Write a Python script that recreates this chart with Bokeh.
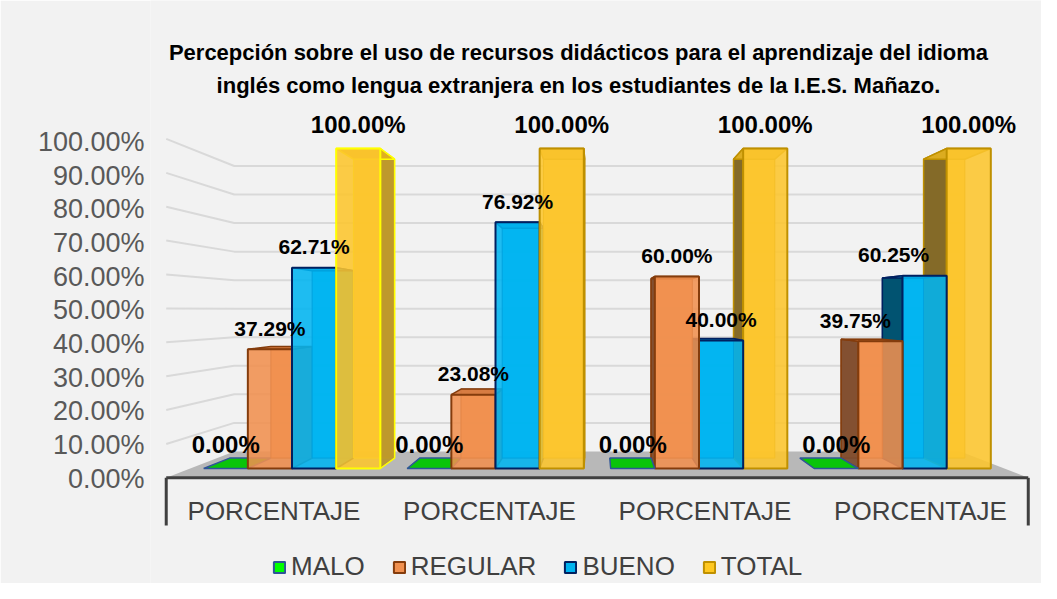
from bokeh.plotting import figure
from bokeh.models import (Range1d, LinearAxis, FixedTicker, ColumnDataSource,
                          Legend, LegendItem)
from bokeh.core.properties import value
from bokeh.embed import file_html
from bokeh.resources import INLINE

# ---------------- data ----------------
title_lines = ["Percepción sobre el uso de recursos didácticos para el aprendizaje del idioma",
               "inglés como lengua extranjera en los estudiantes de la I.E.S. Mañazo."]
categories = ["PORCENTAJE", "PORCENTAJE", "PORCENTAJE", "PORCENTAJE"]
series = ["MALO", "REGULAR", "BUENO", "TOTAL"]
malo = [0.00, 0.00, 0.00, 0.00]
regular = [37.29, 23.08, 60.00, 39.75]
bueno = [62.71, 76.92, 40.00, 60.25]
total = [100.00, 100.00, 100.00, 100.00]
y_ticks = [0, 10, 20, 30, 40, 50, 60, 70, 80, 90, 100]
y_tick_labels = ["0.00%", "10.00%", "20.00%", "30.00%", "40.00%", "50.00%",
                 "60.00%", "70.00%", "80.00%", "90.00%", "100.00%"]

# ---------------- layout / style ----------------
W, H = 1041, 583
FRAME_LEFT = 150
GX0, GXS = 291.5, 203.5      # px of first category centre, px per category
BY0, BYS = 468.0, 3.2        # px of 0 % on bar front plane, px per percent


def xd(fx):
    return (fx - GX0) / GXS


def yd(fy):
    return (BY0 - fy) / BYS


VX, VY = 1.5, yd(310)        # vanishing point (data units)
K_BOX, K_BACK, K_WALL = 1.059, 0.934, 0.892
W_BAR = 0.217
XL, XR = -0.5, 3.5

STYLE = [
    dict(front="#00C000", rside="#009000", lside="#006000", top="#00C400", line="#2F5597"),
    dict(front="#F0904F", rside="#C0703A", lside="#7A4A2E", top="#D57A40", line="#843C0C"),
    dict(front="#00B4F0", rside="#0088B8", lside="#004A66", top="#0090C8", line="#002060"),
    dict(front="#FCC52C", rside="#B8952A", lside="#7A6226", top="#E0B020", line="#BF9000"),
]
LABEL_SIZE = [24, 21, 21, 24]
LEGEND_FILL = ["#00FF00", "#F0904F", "#00B4F0", "#FFC820"]
LEGEND_LINE = ["#2F5597", "#843C0C", "#002060", "#BF9000"]
label_dx = {(3, 1): -25, (3, 2): -31}
outline_override = {(0, 3): "#FFFF00"}

p = figure(width=W, height=H, x_range=Range1d(xd(FRAME_LEFT), xd(W)),
           y_range=Range1d(yd(H), yd(0)), x_axis_type=None, y_axis_type=None,
           toolbar_location=None, output_backend="svg",
           min_border_left=FRAME_LEFT, min_border_right=0, min_border_top=0,
           min_border_bottom=0, background_fill_color="#F2F2F2",
           border_fill_color="#F2F2F2", outline_line_color=None)

# y axis (wall front scale)
AX0, AXS = 478.0, 3.365
p.extra_y_ranges = {"ax": Range1d((AX0 - H) / AXS, AX0 / AXS)}
ax = LinearAxis(y_range_name="ax", ticker=FixedTicker(ticks=y_ticks),
                major_label_overrides=dict(zip(y_ticks, y_tick_labels)))
ax.axis_line_color = None
ax.major_tick_line_color = None
ax.minor_tick_line_color = None
ax.major_tick_out = 0
ax.major_label_standoff = 6
ax.major_label_text_font = "Liberation Sans"
ax.major_label_text_font_size = "27px"
ax.major_label_text_color = "#595959"
p.add_layout(ax, "left")


def P(x, y, k):
    return VX + k * (x - VX), VY + k * (y - VY)


# floor
fl = [P(XL, 0, K_BOX), P(XR, 0, K_BOX), P(XR, 0, K_WALL), P(XL, 0, K_WALL)]
p.patch([a for a, b in fl], [b for a, b in fl], fill_color="#B8B8B8", line_color=None)

# gridlines on left wall + back wall
gx, gy = [], []
for t in y_ticks[1:]:
    pts = [P(XL, t, K_BOX), P(XL, t, K_WALL), P(XR, t, K_WALL)]
    gx.append([a for a, b in pts])
    gy.append([b for a, b in pts])
p.multi_line(gx, gy, line_color="#D9D9D9", line_width=2)

# category axis bracket
bx0, by0 = P(XL, 0, K_BOX)
bx1, _ = P(XR, 0, K_BOX)
ybot = yd(525)
p.multi_line([[bx0, bx1], [bx0, bx0], [bx1, bx1]], [[by0, by0], [by0, ybot], [by0, ybot]],
             line_color="#404040", line_width=3)

# bars (painter's order)
vals = [malo, regular, bueno, total]
bars = []
for g in range(len(categories)):
    for s in range(len(series)):
        xc = g + (s - 1.5) * W_BAR
        bars.append((abs(xc - VX), g, s, xc, vals[s][g]))
bars.sort(key=lambda b: -b[0])

faces = dict(xs=[], ys=[], fill=[], alpha=[], line=[], lw=[])


def add(pts, fill, alpha, line, lw):
    faces["xs"].append([a for a, b in pts])
    faces["ys"].append([b for a, b in pts])
    faces["fill"].append(fill)
    faces["alpha"].append(alpha)
    faces["line"].append(line)
    faces["lw"].append(lw)


for _, g, s, xc, v in bars:
    st = STYLE[s]
    ln = outline_override.get((g, s), st["line"])
    x0, x1 = xc - W_BAR / 2, xc + W_BAR / 2
    if v > 0:
        add([P(x0, 0, K_BACK), P(x1, 0, K_BACK), P(x1, v, K_BACK), P(x0, v, K_BACK)],
            st["front"], 0.9, ln, 1)
        if xc < VX:
            add([P(x1, 0, 1), P(x1, v, 1), P(x1, v, K_BACK), P(x1, 0, K_BACK)],
                st["rside"], 0.92, ln, 1.5)
        else:
            add([P(x0, 0, 1), P(x0, v, 1), P(x0, v, K_BACK), P(x0, 0, K_BACK)],
                st["lside"], 0.92, ln, 1.5)
    add([P(x0, v, 1), P(x1, v, 1), P(x1, v, K_BACK), P(x0, v, K_BACK)],
        st["top"], 0.95, ln, 1.5)
    if v > 0:
        add([P(x0, 0, 1), P(x1, 0, 1), P(x1, v, 1), P(x0, v, 1)],
            st["front"], 0.88, ln, 2)

p.patches("xs", "ys", source=ColumnDataSource(faces), fill_color="fill",
          fill_alpha="alpha", line_color="line", line_width="lw")

# data labels
lab = dict(x=[], y=[], text=[], dx=[], dy=[], size=[])
for _, g, s, xc, v in bars:
    lab["x"].append(xc)
    lab["y"].append(v)
    lab["text"].append(f"{v:.2f}%")
    lab["dx"].append(label_dx.get((g, s), 0))
    lab["dy"].append(-LABEL_SIZE[s])
    lab["size"].append(f"{LABEL_SIZE[s]}px")
p.text("x", "y", text="text", x_offset="dx", y_offset="dy", text_font_size="size",
       source=ColumnDataSource(lab), text_font=value("Liberation Sans"),
       text_font_style="bold", text_color="#000000", text_align="center",
       text_baseline="middle")

# category labels
cx = [P(g, 0, K_BOX)[0] for g in range(len(categories))]
p.text(cx, [yd(510)] * len(categories), text=categories, text_font=value("Liberation Sans"),
       text_font_size="26px", text_color="#404040", text_align="center",
       text_baseline="middle")

# title
p.text([xd(578)] * 2, [yd(52), yd(85)], text=title_lines, text_font=value("Liberation Sans"),
       text_font_style="bold", text_font_size="22px", text_color="#000000",
       text_align="center", text_baseline="middle")

# legend (glyph renderers placed outside the visible range)
items = []
far = xd(-500)
for s, name in enumerate(series):
    r = p.quad(left=[far], right=[far + 0.01], top=[yd(-500)], bottom=[yd(-490)],
               fill_color=LEGEND_FILL[s], line_color=LEGEND_LINE[s], line_width=2)
    items.append(LegendItem(label=name, renderers=[r]))
legend = Legend(items=items, orientation="horizontal", location=(122, 1), padding=0,
                margin=0, border_line_color=None, background_fill_alpha=0,
                label_text_font="Liberation Sans", label_text_font_size="26px",
                label_text_color="#404040", glyph_width=14, glyph_height=14,
                label_standoff=5, spacing=27)
p.add_layout(legend)

open("out.html", "w").write(file_html(p, INLINE))
